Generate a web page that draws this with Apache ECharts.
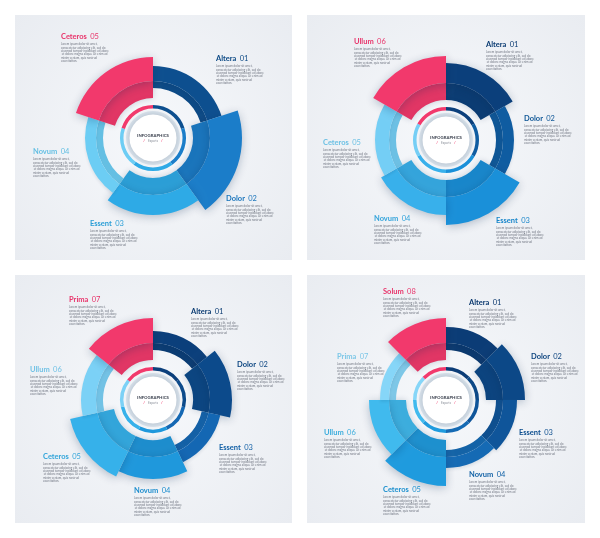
<!DOCTYPE html>
<html><head><meta charset="utf-8">
<script src="https://cdn.jsdelivr.net/npm/echarts@6/dist/echarts.min.js"></script>
<style>html,body{margin:0;padding:0;background:#fff}#c{width:600px;height:538px}</style>
</head><body><div id="c"></div>
<script>
// ---------- DATA ----------
const p1Names = ['Altera', 'Dolor', 'Essent', 'Novum', 'Ceteros'];
const p1Numbers = ['01', '02', '03', '04', '05'];
const p1Outer = [72, 89, 77, 68, 81];
const p1Highlight = [false, true, true, false, true];

const p2Names = ['Altera', 'Dolor', 'Essent', 'Novum', 'Ceteros', 'Ullum'];
const p2Numbers = ['01', '02', '03', '04', '05', '06'];
const p2Outer = [77, 68, 85, 75, 71, 84];
const p2Highlight = [true, false, true, true, false, true];

const p3Names = ['Altera', 'Dolor', 'Essent', 'Novum', 'Ceteros', 'Ullum', 'Prima'];
const p3Numbers = ['01', '02', '03', '04', '05', '06', '07'];
const p3Outer = [69, 79, 69, 79, 85, 72, 82];
const p3Highlight = [false, true, false, true, true, false, true];

const p4Names = ['Altera', 'Dolor', 'Essent', 'Novum', 'Ceteros', 'Ullum', 'Prima', 'Solum'];
const p4Numbers = ['01', '02', '03', '04', '05', '06', '07', '08'];
const p4Outer = [73, 79, 71, 68, 86, 77, 66, 82];
const p4Highlight = [false, true, false, false, true, true, false, true];

const centerTitle = 'INFOGRAPHICS';
const centerSub = 'Experts';
const loremText = 'Lorem ipsum dolor sit amet, consectetur adipiscing elit, sed do eiusmod tempor incididunt ut labore et dolore magna aliqua. Ut enim ad minim veniam, quis nostrud exercitation.';

// ---------- STYLE / LAYOUT ----------
const PINK = '#f2396c';
const p1Colors = ['#0d4f8f', '#1b7dc9', '#2eaae6', '#6ccdf4', PINK];
const p2Colors = ['#0b3f7b', '#0f5ca1', '#1a90d9', '#38b0eb', '#74cef5', PINK];
const p3Colors = ['#0b3f7b', '#0c4a8b', '#1467b3', '#1f98dc', '#36b1ea', '#7bd1f6', PINK];
const p4Colors = ['#0b3c76', '#0c4887', '#0f559a', '#156ab4', '#1f9bde', '#40baee', '#86d6f8', PINK];

const p1Labels = [[216, 59], [226, 199], [90, 224], [33, 152], [61, 37]];
const p2Labels = [[486, 45], [524, 119], [496, 221], [374, 219], [323, 143], [354, 42]];
const p3Labels = [[191, 312], [237, 365], [219, 448], [134, 491], [43, 457], [30, 370], [69, 300]];
const p4Labels = [[469, 303], [531, 357], [519, 433], [469, 475], [383, 490], [324, 433], [337, 357], [383, 292]];

const RMAX = 100, MID = 57, IN_HI = 40, IN_RING = 50;

const panels = [
  { names: p1Names, numbers: p1Numbers, outer: p1Outer, hi: p1Highlight, colors: p1Colors, labels: p1Labels, center: [153, 138], rect: [15, 15, 277, 245] },
  { names: p2Names, numbers: p2Numbers, outer: p2Outer, hi: p2Highlight, colors: p2Colors, labels: p2Labels, center: [446, 140], rect: [307, 15, 278, 245] },
  { names: p3Names, numbers: p3Numbers, outer: p3Outer, hi: p3Highlight, colors: p3Colors, labels: p3Labels, center: [153, 400], rect: [15, 275, 277, 248] },
  { names: p4Names, numbers: p4Numbers, outer: p4Outer, hi: p4Highlight, colors: p4Colors, labels: p4Labels, center: [446, 400], rect: [307, 275, 278, 248] }
];

function shade(hex, f) {
  const n = parseInt(hex.slice(1), 16);
  const r = Math.round(((n >> 16) & 255) * f), g = Math.round(((n >> 8) & 255) * f), b = Math.round((n & 255) * f);
  return 'rgb(' + r + ',' + g + ',' + b + ')';
}

const polar = [], angleAxis = [], radiusAxis = [], series = [], graphic = [];
const FONT = 'Lato, "Open Sans", sans-serif';

panels.forEach((p, i) => {
  polar.push({ center: p.center, radius: RMAX });
  angleAxis.push({
    polarIndex: i, type: 'category', data: p.names, startAngle: 90, clockwise: true, boundaryGap: true,
    axisLine: { show: false }, axisTick: { show: false }, axisLabel: { show: false }, splitLine: { show: false }, splitArea: { show: false }
  });
  radiusAxis.push({
    polarIndex: i, type: 'value', min: 0, max: RMAX, show: false,
    axisLine: { show: false }, axisTick: { show: false }, axisLabel: { show: false }, splitLine: { show: false }, splitArea: { show: false }
  });
  const inner = p.hi.map(h => h ? IN_HI : IN_RING);
  const common = { type: 'bar', coordinateSystem: 'polar', polarIndex: i, stack: 's' + i, barCategoryGap: '0%', silent: true };
  series.push(Object.assign({}, common, { data: inner, itemStyle: { color: 'rgba(0,0,0,0)' } }));
  series.push(Object.assign({}, common, {
    data: inner.map((r, k) => ({
      value: MID - r,
      itemStyle: { color: shade(p.colors[k], p.colors[k] === PINK ? 0.93 : 0.93), shadowBlur: p.hi[k] ? 6 : 0, shadowColor: 'rgba(10,40,80,0.2)' }
    }))
  }));
  series.push(Object.assign({}, common, {
    data: p.outer.map((o, k) => ({
      value: o - MID,
      itemStyle: { color: p.colors[k], shadowBlur: p.hi[k] ? 10 : 3, shadowOffsetY: 2, shadowColor: p.hi[k] ? 'rgba(10,40,80,0.28)' : 'rgba(10,40,80,0.1)' }
    }))
  }));
  // centre decorations
  const pieBase = { type: 'pie', center: p.center, silent: true, label: { show: false }, labelLine: { show: false }, emphasis: { disabled: true }, startAngle: 90, clockwise: true };
  series.push(Object.assign({}, pieBase, { radius: [0, 27], data: [{ value: 1, name: 'halo' }], itemStyle: { color: '#d9e3ec' } }));
  series.push(Object.assign({}, pieBase, {
    radius: [29.5, 33],
    data: p.names.map((n, k) => ({ name: n, value: 1, itemStyle: { color: p.colors[k] } }))
  }));
  series.push(Object.assign({}, pieBase, { radius: [0, 23.5], data: [{ value: 1, name: 'core' }], itemStyle: { color: '#ffffff', shadowBlur: 6, shadowColor: 'rgba(30,50,80,0.25)' } }));

  // panel background
  graphic.push({
    type: 'rect', z: -10, shape: { x: p.rect[0], y: p.rect[1], width: p.rect[2], height: p.rect[3] },
    style: { fill: { type: 'radial', x: 0.5, y: 0.5, r: 0.75, colorStops: [{ offset: 0, color: '#f6f8fb' }, { offset: 1, color: '#e9ecf1' }] } },
    silent: true
  });
  // centre texts
  graphic.push({ type: 'text', z: 100, x: p.center[0], y: p.center[1] - 2, silent: true,
    style: { text: centerTitle, fill: '#3d4350', fontSize: 4.3, fontWeight: 'bold', fontFamily: FONT, textAlign: 'center', textVerticalAlign: 'middle' } });
  graphic.push({ type: 'text', z: 100, x: p.center[0], y: p.center[1] + 3, silent: true,
    style: { text: '{s|/} {t|' + centerSub + '} {s|/}', fontFamily: FONT, textAlign: 'center', textVerticalAlign: 'middle',
      rich: { s: { fill: PINK, fontSize: 3.6, fontWeight: 'bold', fontFamily: FONT }, t: { fill: '#8a8f99', fontSize: 3, fontFamily: FONT } } } });
  // labels
  p.names.forEach((n, k) => {
    const [lx, ly] = p.labels[k];
    const c = p.colors[k] === PINK ? '#e8336a' : shade(p.colors[k], 0.93);
    graphic.push({ type: 'text', z: 100, x: lx, y: ly, silent: true,
      style: { text: '{a|' + n + '} {b|' + p.numbers[k] + '}', textVerticalAlign: 'middle', textAlign: 'left',
        rich: { a: { fill: c, fontSize: 7.5, fontWeight: 'bold', fontFamily: FONT }, b: { fill: c, fontSize: 7.5, fontWeight: 'normal', fontFamily: FONT } } } });
    graphic.push({ type: 'text', z: 100, x: lx, y: ly + 5.5, silent: true,
      style: { text: loremText, fill: '#737884', fontSize: 3, fontFamily: FONT, width: 48, overflow: 'break', lineHeight: 3.4, textAlign: 'left', textVerticalAlign: 'top' } });
  });
});

const chart = echarts.init(document.getElementById('c'), null, { renderer: 'canvas' });
chart.setOption({
  animation: false,
  backgroundColor: '#ffffff',
  polar: polar,
  angleAxis: angleAxis,
  radiusAxis: radiusAxis,
  series: series,
  graphic: { elements: graphic }
});
</script></body></html>
